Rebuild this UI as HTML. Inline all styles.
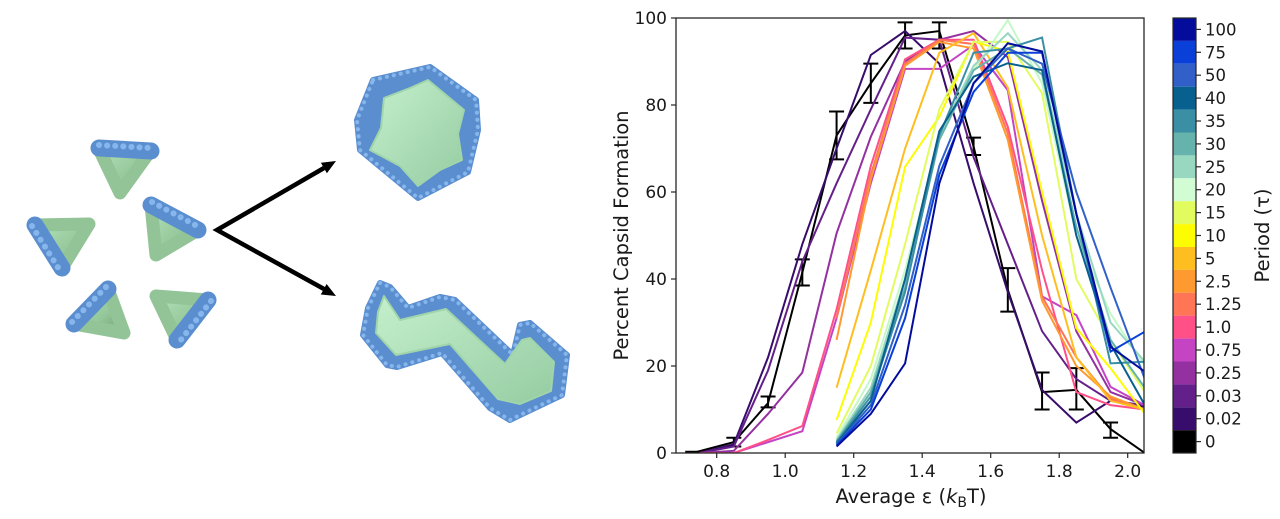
<!DOCTYPE html>
<html>
<head>
<meta charset="utf-8">
<style>
  html,body{margin:0;padding:0;background:#fff;}
  svg{display:block;}
  text{font-family:"DejaVu Sans","Liberation Sans",sans-serif;fill:#1a1a1a;}
</style>
</head>
<body>
<svg width="1280" height="519" viewBox="0 0 1280 519" xmlns="http://www.w3.org/2000/svg">
  <defs>
    <linearGradient id="gg" x1="0" y1="0" x2="1" y2="1">
      <stop offset="0" stop-color="#b4e2ba"/>
      <stop offset="0.6" stop-color="#94c79a"/>
      <stop offset="1" stop-color="#6f9c76"/>
    </linearGradient>
    <linearGradient id="gl" x1="0" y1="0" x2="1" y2="1">
      <stop offset="0" stop-color="#c4f0cc"/>
      <stop offset="1" stop-color="#96cca2"/>
    </linearGradient>
    <clipPath id="plotclip"><rect x="676" y="18" width="468" height="435"/></clipPath>
  </defs>
  <rect width="1280" height="519" fill="#fff"/>

  <!-- ===== Left illustration ===== -->
  <g stroke-linejoin="round" stroke-linecap="round">
    <!-- T1 -->
    <polygon points="98,147 151,150 120,193" fill="url(#gg)" stroke="#93c497" stroke-width="13"/>
    <line x1="99" y1="148" x2="151" y2="151" stroke="#5a8ecf" stroke-width="17"/>
    <line x1="99" y1="145" x2="151" y2="148" stroke="#86b6ec" stroke-width="6" stroke-dasharray="0.1 8"/>
    <!-- T2 -->
    <polygon points="151,205 198,230 156,255" fill="url(#gg)" stroke="#93c497" stroke-width="13"/>
    <line x1="151" y1="205" x2="198" y2="230" stroke="#5a8ecf" stroke-width="17"/>
    <line x1="152" y1="202" x2="199" y2="227" stroke="#86b6ec" stroke-width="6" stroke-dasharray="0.1 8"/>
    <!-- T3 -->
    <polygon points="35,225 89,224 62,268" fill="url(#gg)" stroke="#93c497" stroke-width="13"/>
    <line x1="35" y1="225" x2="62" y2="268" stroke="#5a8ecf" stroke-width="17"/>
    <line x1="32" y1="226" x2="59" y2="269" stroke="#86b6ec" stroke-width="6" stroke-dasharray="0.1 8"/>
    <!-- T4 -->
    <polygon points="108,289 74,324 124,333" fill="url(#gg)" stroke="#93c497" stroke-width="13"/>
    <line x1="108" y1="289" x2="74" y2="324" stroke="#5a8ecf" stroke-width="17"/>
    <line x1="106" y1="287" x2="72" y2="322" stroke="#86b6ec" stroke-width="6" stroke-dasharray="0.1 8"/>
    <!-- T5 -->
    <polygon points="156,296 208,300 177,340" fill="url(#gg)" stroke="#93c497" stroke-width="13"/>
    <line x1="208" y1="300" x2="177" y2="340" stroke="#5a8ecf" stroke-width="17"/>
    <line x1="211" y1="301" x2="180" y2="341" stroke="#86b6ec" stroke-width="6" stroke-dasharray="0.1 8"/>
  </g>

  <!-- Arrows -->
  <g stroke="#000" stroke-width="4.5" stroke-linecap="butt" fill="none">
    <polyline points="324,168 217,230 324,289"/>
  </g>
  <polygon points="336,161 326.9,173.2 320.9,162.8" fill="#000"/>
  <polygon points="336,296 320.8,294.5 326.6,284" fill="#000"/>

  <!-- Hexagonal capsid -->
  <g stroke-linejoin="round">
    <polygon points="373,80 430,67 476,100 478,130 468,172 418,198 360,150 357,120" fill="#5a8ecf" stroke="#5a8ecf" stroke-width="6"/>
    <polygon points="373,80 430,67 476,100 478,130 468,172 418,198 360,150 357,120" fill="none" stroke="#86b6ec" stroke-width="4" stroke-dasharray="0.1 7" stroke-linecap="round"/>
    <polygon points="384,98 410,88 428,80 446,95 464,110 458,134 462,160 440,170 418,186 400,166 370,150 381,128" fill="url(#gl)" stroke="#a0d4aa" stroke-width="2"/>
  </g>

  <!-- Zigzag ribbon -->
  <g stroke-linejoin="round">
    <polygon points="380,283 390,287 408,308 440,297 455,300 513,355 520,325 530,323 567,355 562,395 520,415 510,420 490,408 442,353 397,367 387,365 363,335 368,308" fill="#5a8ecf" stroke="#5a8ecf" stroke-width="6"/>
    <polygon points="380,283 390,287 408,308 440,297 455,300 513,355 520,325 530,323 567,355 562,395 520,415 510,420 490,408 442,353 397,367 387,365 363,335 368,308" fill="none" stroke="#86b6ec" stroke-width="4" stroke-dasharray="0.1 7" stroke-linecap="round"/>
    <polygon points="384,296 400,320 446,309 505,364 522,340 530,338 554,362 551,391 520,404 498,399 450,344 396,355 376,333 378,312" fill="url(#gl)" stroke="#a0d4aa" stroke-width="2"/>
  </g>

  <!-- ===== Chart ===== -->
  <g clip-path="url(#plotclip)">
    <g transform="matrix(342.5,0,0,-4.35,442.7,453)" fill="none" stroke-width="2" stroke-linejoin="miter">
      <path vector-effect="non-scaling-stroke" stroke="#000" d="M0.85 1.5V3.5M0.8281 1.5H0.8719M0.8281 3.5H0.8719
        M0.95 10.5V13M0.9281 10.5H0.9719M0.9281 13H0.9719
        M1.05 38.5V44.5M1.0281 38.5H1.0719M1.0281 44.5H1.0719
        M1.15 67.5V78.5M1.1281 67.5H1.1719M1.1281 78.5H1.1719
        M1.25 80.5V89.5M1.2281 80.5H1.2719M1.2281 89.5H1.2719
        M1.35 93V99M1.3281 93H1.3719M1.3281 99H1.3719
        M1.45 93V99M1.4281 93H1.4719M1.4281 99H1.4719
        M1.55 68.5V72.5M1.5281 68.5H1.5719M1.5281 72.5H1.5719
        M1.65 32.5V42.5M1.6281 32.5H1.6719M1.6281 42.5H1.6719
        M1.75 10V18.5M1.7281 10H1.7719M1.7281 18.5H1.7719
        M1.85 10V19.5M1.8281 10H1.8719M1.8281 19.5H1.8719
        M1.95 3.5V7M1.9281 3.5H1.9719M1.9281 7H1.9719
        M0.7081 0.3H0.7519"/>
      <polyline vector-effect="non-scaling-stroke" stroke="#000" points="0.73,0 0.85,2.5 0.95,11.5 1.05,41.5 1.15,73 1.25,85 1.35,96 1.45,97 1.55,70.5 1.65,37.5 1.75,14 1.85,14.5 1.95,5.5 2.05,0"/>
      <polyline vector-effect="non-scaling-stroke" stroke="#380c6c" points="0.75,0 0.85,2 0.95,22 1.05,48 1.15,70 1.25,91.5 1.35,97 1.45,89.5 1.55,62 1.65,37 1.75,14.5 1.85,7 1.95,12 2.05,10.6"/>
      <polyline vector-effect="non-scaling-stroke" stroke="#64208a" points="0.75,0 0.85,1.5 0.95,19 1.05,44 1.15,62 1.25,79 1.35,95.5 1.45,95 1.55,68 1.65,48 1.75,28 1.85,17 1.95,12 2.05,11"/>
      <polyline vector-effect="non-scaling-stroke" stroke="#9430a0" points="0.75,0 0.85,0.5 0.95,9 1.05,18.5 1.15,50.5 1.25,72.7 1.35,90 1.45,95 1.55,97 1.65,91 1.75,58 1.85,28 1.95,14 2.05,11"/>
      <polyline vector-effect="non-scaling-stroke" stroke="#c444c4" points="0.75,0 0.85,0 0.95,2.5 1.05,5 1.15,31 1.25,62 1.35,88.3 1.45,88.3 1.55,93.8 1.65,83.4 1.75,36 1.85,31.7 1.95,15.2 2.05,11"/>
      <polyline vector-effect="non-scaling-stroke" stroke="#ff5088" points="0.75,0 0.85,0 0.95,3 1.05,6.2 1.15,33 1.25,66 1.35,90.5 1.45,95 1.55,95 1.65,75 1.75,42 1.85,14 1.95,11 2.05,10"/>
      <polyline vector-effect="non-scaling-stroke" stroke="#ff7555" points="1.15,31 1.25,64 1.35,89.5 1.45,95 1.55,94 1.65,73.5 1.75,36 1.85,22 1.95,12.5 2.05,10"/>
      <polyline vector-effect="non-scaling-stroke" stroke="#ff9a30" points="1.15,26 1.25,63 1.35,89 1.45,94.5 1.55,93 1.65,72 1.75,35 1.85,20 1.95,13 2.05,10"/>
      <polyline vector-effect="non-scaling-stroke" stroke="#ffbe20" points="1.15,15 1.25,42 1.35,70 1.45,92 1.55,96.5 1.65,84 1.75,50 1.85,22 1.95,12 2.05,10"/>
      <polyline vector-effect="non-scaling-stroke" stroke="#fdfc00" points="1.15,7.6 1.25,30 1.35,65.8 1.45,77.3 1.55,94.6 1.65,92.3 1.75,60 1.85,28.7 1.95,19.5 2.05,9"/>
      <polyline vector-effect="non-scaling-stroke" stroke="#e2fc60" points="1.15,4.5 1.25,20 1.35,48 1.45,79 1.55,94.5 1.65,94.5 1.75,82.7 1.85,40 1.95,26 2.05,14"/>
      <polyline vector-effect="non-scaling-stroke" stroke="#c4f8c8" points="1.15,3.5 1.25,17 1.35,42 1.45,72 1.55,88 1.65,99.5 1.75,85 1.85,50 1.95,32 2.05,20"/>
      <polyline vector-effect="non-scaling-stroke" stroke="#98d8c0" points="1.15,3 1.25,15 1.35,40 1.45,73 1.55,89 1.65,96.5 1.75,88 1.85,55 1.95,30 2.05,21"/>
      <polyline vector-effect="non-scaling-stroke" stroke="#66b2ac" points="1.15,2.7 1.25,14 1.35,38 1.45,72 1.55,88 1.65,93 1.75,87 1.85,52 1.95,26 2.05,15"/>
      <polyline vector-effect="non-scaling-stroke" stroke="#3a8fa5" points="1.15,2.5 1.25,13 1.35,37 1.45,73 1.55,92 1.65,93 1.75,95.5 1.85,55 1.95,20.6 2.05,21"/>
      <polyline vector-effect="non-scaling-stroke" stroke="#08608e" points="1.15,2.2 1.25,12 1.35,40 1.45,74 1.55,86.5 1.65,89.6 1.75,88 1.85,50 1.95,25 2.05,11"/>
      <polyline vector-effect="non-scaling-stroke" stroke="#3060c8" points="1.15,2 1.25,11 1.35,34 1.45,66 1.55,85 1.65,93 1.75,89.5 1.85,60 1.95,38 2.05,17"/>
      <polyline vector-effect="non-scaling-stroke" stroke="#0a40d8" points="1.15,1.8 1.25,10 1.35,31 1.45,64 1.55,83 1.65,92 1.75,92 1.85,55 1.95,23.3 2.05,27.9"/>
      <polyline vector-effect="non-scaling-stroke" stroke="#040c9c" points="1.15,1.5 1.25,9 1.35,20.6 1.45,62 1.55,85 1.65,94.2 1.75,92.3 1.85,55 1.95,24.4 2.05,18.7"/>
    </g>
  </g>

  <!-- Axes frame -->
  <rect x="676" y="18" width="468" height="435" fill="none" stroke="#262626" stroke-width="1.3"/>

  <!-- Y ticks -->
  <g stroke="#262626" stroke-width="1.2">
    <line x1="671" y1="453" x2="676" y2="453"/>
    <line x1="671" y1="366" x2="676" y2="366"/>
    <line x1="671" y1="279" x2="676" y2="279"/>
    <line x1="671" y1="192" x2="676" y2="192"/>
    <line x1="671" y1="105" x2="676" y2="105"/>
    <line x1="671" y1="18" x2="676" y2="18"/>
  </g>
  <g font-size="17" text-anchor="end">
    <text x="667" y="459">0</text>
    <text x="667" y="372">20</text>
    <text x="667" y="285">40</text>
    <text x="667" y="198">60</text>
    <text x="667" y="111">80</text>
    <text x="667" y="24">100</text>
  </g>

  <!-- X ticks -->
  <g stroke="#262626" stroke-width="1.2">
    <line x1="716.7" y1="453" x2="716.7" y2="458"/>
    <line x1="785.2" y1="453" x2="785.2" y2="458"/>
    <line x1="853.7" y1="453" x2="853.7" y2="458"/>
    <line x1="922.2" y1="453" x2="922.2" y2="458"/>
    <line x1="990.7" y1="453" x2="990.7" y2="458"/>
    <line x1="1059.2" y1="453" x2="1059.2" y2="458"/>
    <line x1="1127.7" y1="453" x2="1127.7" y2="458"/>
  </g>
  <g font-size="17" text-anchor="middle">
    <text x="716.7" y="477">0.8</text>
    <text x="785.2" y="477">1.0</text>
    <text x="853.7" y="477">1.2</text>
    <text x="922.2" y="477">1.4</text>
    <text x="990.7" y="477">1.6</text>
    <text x="1059.2" y="477">1.8</text>
    <text x="1127.7" y="477">2.0</text>
  </g>

  <!-- Axis labels -->
  <text x="911" y="503" font-size="19.5" text-anchor="middle">Average ε (<tspan font-style="italic">k</tspan><tspan dy="4" font-size="14">B</tspan><tspan dy="-4">T)</tspan></text>
  <text transform="translate(628,235.5) rotate(-90)" font-size="19.5" text-anchor="middle">Percent Capsid Formation</text>

  <!-- Colorbar -->
  <g>
    <rect x="1173" y="18" width="23" height="22.9" fill="#040c9c"/>
    <rect x="1173" y="40.9" width="23" height="22.9" fill="#0a40d8"/>
    <rect x="1173" y="63.8" width="23" height="22.9" fill="#3060c8"/>
    <rect x="1173" y="86.7" width="23" height="22.9" fill="#08608e"/>
    <rect x="1173" y="109.6" width="23" height="22.9" fill="#3a8fa5"/>
    <rect x="1173" y="132.5" width="23" height="22.9" fill="#66b2ac"/>
    <rect x="1173" y="155.4" width="23" height="22.9" fill="#98d8c0"/>
    <rect x="1173" y="178.3" width="23" height="22.9" fill="#d2fcd4"/>
    <rect x="1173" y="201.2" width="23" height="22.9" fill="#e2fc60"/>
    <rect x="1173" y="224.1" width="23" height="22.9" fill="#fdfc00"/>
    <rect x="1173" y="247" width="23" height="22.9" fill="#ffbe20"/>
    <rect x="1173" y="269.9" width="23" height="22.9" fill="#ff9a30"/>
    <rect x="1173" y="292.8" width="23" height="22.9" fill="#ff7555"/>
    <rect x="1173" y="315.7" width="23" height="22.9" fill="#ff5088"/>
    <rect x="1173" y="338.6" width="23" height="22.9" fill="#c444c4"/>
    <rect x="1173" y="361.5" width="23" height="22.9" fill="#9430a0"/>
    <rect x="1173" y="384.4" width="23" height="22.9" fill="#64208a"/>
    <rect x="1173" y="407.3" width="23" height="22.9" fill="#380c6c"/>
    <rect x="1173" y="430.2" width="23" height="22.8" fill="#000000"/>
    <rect x="1173" y="18" width="23" height="435" fill="none" stroke="#262626" stroke-width="1.2"/>
  </g>
  <g stroke="#262626" stroke-width="1.2">
    <line x1="1196" y1="29.4" x2="1201" y2="29.4"/>
    <line x1="1196" y1="52.3" x2="1201" y2="52.3"/>
    <line x1="1196" y1="75.2" x2="1201" y2="75.2"/>
    <line x1="1196" y1="98.1" x2="1201" y2="98.1"/>
    <line x1="1196" y1="121" x2="1201" y2="121"/>
    <line x1="1196" y1="143.9" x2="1201" y2="143.9"/>
    <line x1="1196" y1="166.8" x2="1201" y2="166.8"/>
    <line x1="1196" y1="189.7" x2="1201" y2="189.7"/>
    <line x1="1196" y1="212.6" x2="1201" y2="212.6"/>
    <line x1="1196" y1="235.5" x2="1201" y2="235.5"/>
    <line x1="1196" y1="258.4" x2="1201" y2="258.4"/>
    <line x1="1196" y1="281.3" x2="1201" y2="281.3"/>
    <line x1="1196" y1="304.2" x2="1201" y2="304.2"/>
    <line x1="1196" y1="327.1" x2="1201" y2="327.1"/>
    <line x1="1196" y1="350" x2="1201" y2="350"/>
    <line x1="1196" y1="372.9" x2="1201" y2="372.9"/>
    <line x1="1196" y1="395.8" x2="1201" y2="395.8"/>
    <line x1="1196" y1="418.7" x2="1201" y2="418.7"/>
    <line x1="1196" y1="441.6" x2="1201" y2="441.6"/>
  </g>
  <g font-size="16.5">
    <text x="1205" y="35.4">100</text>
    <text x="1205" y="58.3">75</text>
    <text x="1205" y="81.2">50</text>
    <text x="1205" y="104.1">40</text>
    <text x="1205" y="127">35</text>
    <text x="1205" y="149.9">30</text>
    <text x="1205" y="172.8">25</text>
    <text x="1205" y="195.7">20</text>
    <text x="1205" y="218.6">15</text>
    <text x="1205" y="241.5">10</text>
    <text x="1205" y="264.4">5</text>
    <text x="1205" y="287.3">2.5</text>
    <text x="1205" y="310.2">1.25</text>
    <text x="1205" y="333.1">1.0</text>
    <text x="1205" y="356">0.75</text>
    <text x="1205" y="378.9">0.25</text>
    <text x="1205" y="401.8">0.03</text>
    <text x="1205" y="424.7">0.02</text>
    <text x="1205" y="447.6">0</text>
  </g>
  <text transform="translate(1269,235.5) rotate(-90)" font-size="19.5" text-anchor="middle">Period (τ)</text>
</svg>
</body>
</html>
